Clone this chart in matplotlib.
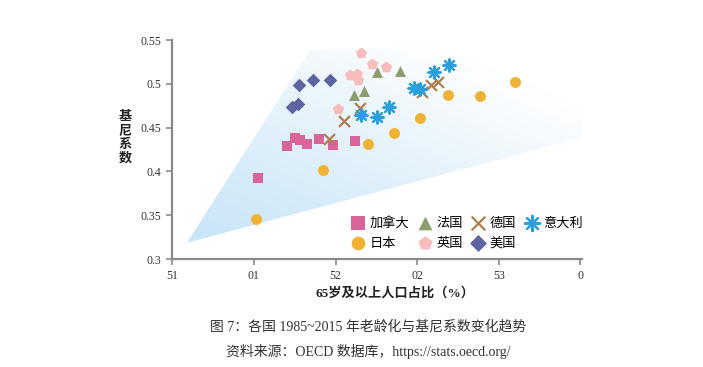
import numpy as np
import matplotlib
matplotlib.use("Agg")
import matplotlib.pyplot as plt
from matplotlib.patches import Polygon

plt.rcParams['font.family'] = ['Noto Sans CJK SC', 'DejaVu Sans']

# ---- data ----
canada_x = [10.24, 12.02, 12.51, 12.82, 13.24, 13.98, 14.84, 16.18]
canada_y = [0.393, 0.429, 0.438, 0.436, 0.431, 0.437, 0.430, 0.435]
japan_x = [10.12, 14.24, 17.00, 18.61, 20.20, 21.89, 23.87, 26.02]
japan_y = [0.346, 0.402, 0.431, 0.444, 0.461, 0.487, 0.486, 0.502]
france_x = [16.12, 16.73, 17.55, 18.94]
france_y = [0.487, 0.492, 0.514, 0.515]
germany_x = [14.59, 15.51, 16.49, 20.28, 20.83, 21.26]
germany_y = [0.437, 0.458, 0.472, 0.491, 0.499, 0.502]
italy_x = [16.59, 17.57, 18.26, 19.79, 20.19, 21.02, 21.95]
italy_y = [0.464, 0.462, 0.473, 0.495, 0.494, 0.513, 0.522]
uk_x = [15.16, 15.88, 16.29, 16.38, 16.53, 17.26, 18.08]
uk_y = [0.471, 0.510, 0.511, 0.504, 0.535, 0.523, 0.519]
usa_x = [12.31, 12.72, 12.77, 13.59, 14.65]
usa_y = [0.474, 0.477, 0.499, 0.504, 0.504]

xticks = [5, 10, 15, 20, 25, 30]
xtick_labels = ['51', '01', '52', '02', '53', '0']
yticks = [0.3, 0.35, 0.4, 0.45, 0.5, 0.55]
ytick_labels = ['0.3', '0.35', '0.4', '0.45', '0.5', '0.55']

serif_mix = ['Liberation Serif', 'Noto Sans CJK SC', 'DejaVu Sans']

fig = plt.figure(figsize=(7.03, 3.67), dpi=100)
ax = fig.add_axes([172.3/703, 1-259/367, (582-172.3)/703, (259-40)/367])
ax.set_xlim(5, 30.1)
ax.set_ylim(0.3, 0.55)

# gradient background polygon
poly_pts = [(5.9, 0.3185), (13.43, 0.538), (30.1, 0.55), (30.1, 0.439)]
poly = Polygon(poly_pts, closed=True, transform=ax.transData, facecolor='none', edgecolor='none')
ax.add_patch(poly)
nx, ny = 400, 200
u = np.linspace(0, 1, nx)[None, :]
v = np.linspace(0, 1, ny)[:, None]
g = u * 0.8 + v * 1.0
w = np.clip((g - 0.15) / 1.35, 0, 1) ** 1.1
blue = np.array([0.79, 0.90, 0.97])
img = blue[None, None, :] * (1 - w[..., None]) + np.ones(3)[None, None, :] * w[..., None]
im = ax.imshow(img, extent=[5, 30.1, 0.3, 0.55], origin='lower', aspect='auto', zorder=0,
               interpolation='bilinear')
im.set_clip_path(poly)

ms = 62
ax.scatter(canada_x, canada_y, marker='s', s=ms, color='#d8649a', label='加拿大', zorder=3, linewidths=0)
ax.scatter(japan_x, japan_y, marker='o', s=ms, color='#f0b232', label='日本', zorder=3, linewidths=0)
ax.scatter(france_x, france_y, marker='^', s=ms, color='#8c9c6c', label='法国', zorder=3, linewidths=0)
ax.scatter(uk_x, uk_y, marker='p', s=ms+10, color='#f8bcbc', label='英国', zorder=3, linewidths=0)
ax.scatter(germany_x, germany_y, marker='x', s=ms, color='#b17d4e', label='德国', zorder=3, linewidths=1.6)
ax.scatter(usa_x, usa_y, marker='D', s=ms-14, color='#5c64a2', label='美国', zorder=3, linewidths=0)
ax.scatter(italy_x, italy_y, marker=(8, 2, 0), s=ms+15, color='#2a9fdc', label='意大利', zorder=3, linewidths=1.6)

for s in ['top', 'right']:
    ax.spines[s].set_visible(False)
for s in ['left', 'bottom']:
    ax.spines[s].set_color('#8a8a8a')
    ax.spines[s].set_linewidth(1.6)

ax.set_xticks(xticks)
ax.set_xticklabels(xtick_labels, family=['Liberation Serif', 'DejaVu Serif'], fontsize=8.5, color='#333333')
ax.set_yticks(yticks)
ax.set_yticklabels(ytick_labels, family=['Liberation Serif', 'DejaVu Serif'], fontsize=8.5, color='#333333')
ax.tick_params(axis='both', direction='out', length=4, width=1.2, color='#8a8a8a', pad=4)

fig.text(125/703, 1-137/367, '基\n尼\n系\n数', ha='center', va='center',
         fontsize=9.5, fontweight='bold', color='#222222', linespacing=1.0)
fig.text(395/703, 1-293/367, '65岁及以上人口占比（%）', ha='center', va='center',
         fontsize=9.5, fontweight='bold', color='#222222', family=serif_mix)

leg = ax.legend(loc='lower right', bbox_to_anchor=(1.025, 0.0), ncol=4, frameon=False,
                fontsize=9.5, handletextpad=0.15, columnspacing=0.5, labelspacing=0.55,
                borderaxespad=0.3, handlelength=1.4, scatterpoints=1, markerscale=1.25)

fig.text(368/703, 1-327/367, '图 7：各国 1985~2015 年老龄化与基尼系数变化趋势', ha='center', va='center',
         fontsize=10, color='#333333', family=serif_mix)
fig.text(368/703, 1-351/367, '资料来源：OECD 数据库，https://stats.oecd.org/', ha='center', va='center',
         fontsize=10, color='#333333', family=serif_mix)

fig.savefig('out.png', dpi=100)
